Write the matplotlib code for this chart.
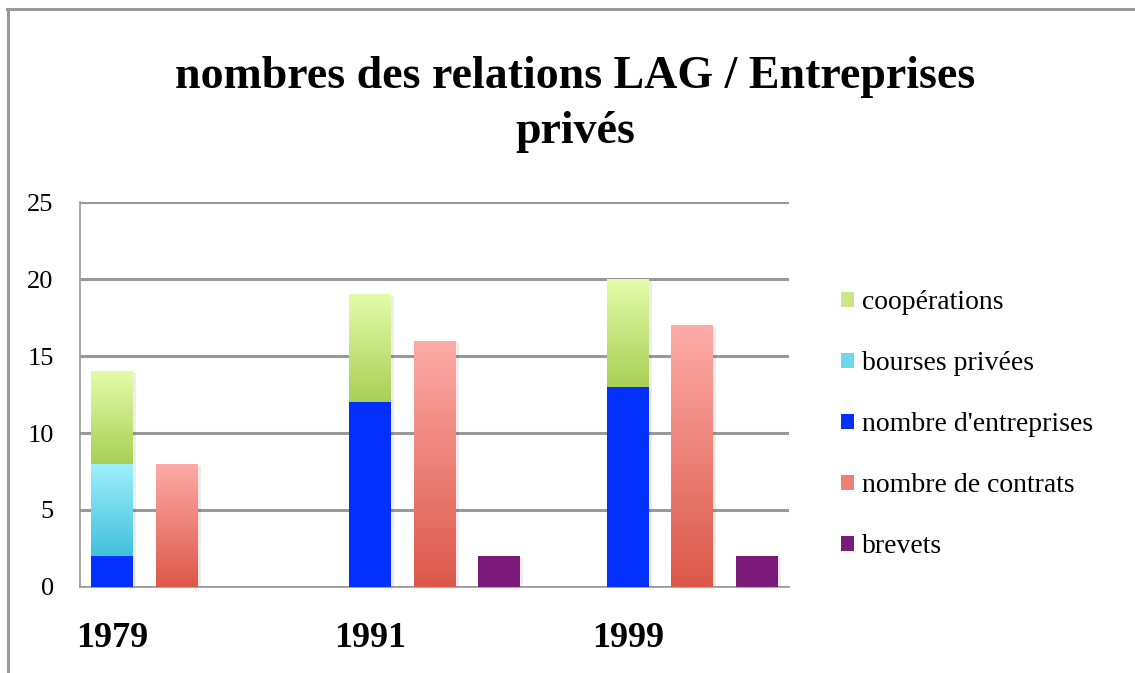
import matplotlib
matplotlib.use('Agg')
import matplotlib.pyplot as plt
from matplotlib.colors import LinearSegmentedColormap
from matplotlib.patches import Patch
from matplotlib.lines import Line2D
import numpy as np

# relations LAG / entreprises privées par année
years = ['1979', '1991', '1999']
entreprises = [2, 12, 13]
bourses = [6, 0, 0]
cooperations = [6, 7, 7]
contrats = [8, 16, 17]
brevets = [0, 2, 2]

plt.rcParams['font.family'] = ['Liberation Serif', 'DejaVu Serif']

fig = plt.figure(figsize=(11.35, 6.73), dpi=100)
ax = fig.add_axes([0.0705, 0.1278, 0.6246, 0.572])

w = 0.65
grey = '#999999'


def shadow(x, h, bottom):
    if h <= 0:
        return
    ax.bar(x + 0.05, h, w, bottom=bottom - 0.12, color='k', alpha=0.07,
           zorder=2.5, linewidth=0)


def grad_bar(x, h, bottom, top_col, bot_col):
    if h <= 0:
        return
    bar = ax.bar(x, h, w, bottom=bottom, color='none', linewidth=0, zorder=3)[0]
    cmap = LinearSegmentedColormap.from_list('g', [bot_col, top_col])
    img = ax.imshow(np.linspace(0, 1, 256).reshape(-1, 1), cmap=cmap,
                    extent=[x - w / 2, x + w / 2, bottom, bottom + h],
                    origin='lower', aspect='auto', zorder=3)
    img.set_clip_path(bar)


for i in range(len(years)):
    x0 = i * 4
    # shadows first
    shadow(x0, entreprises[i] + bourses[i] + cooperations[i], 0)
    shadow(x0 + 1, contrats[i], 0)
    shadow(x0 + 2, brevets[i], 0)

    # stacked bar
    if entreprises[i] > 0:
        ax.bar(x0, entreprises[i], w, color='#0330ff', linewidth=0, zorder=3)
    grad_bar(x0, bourses[i], entreprises[i], '#a0f0fd', '#40c0dc')
    grad_bar(x0, cooperations[i], entreprises[i] + bourses[i], '#e4fcaa', '#a8cf55')

    grad_bar(x0 + 1, contrats[i], 0, '#fdaba7', '#dc5849')
    if brevets[i] > 0:
        ax.bar(x0 + 2, brevets[i], w, color='#7c1a79', linewidth=0, zorder=3)

ax.set_xlim(-0.5, 10.5)
ax.set_ylim(0, 25)
ax.set_yticks(np.arange(0, 26, 5))
ax.set_xticks([i * 4 for i in range(len(years))])
ax.set_xticklabels(years, fontsize=26, fontweight='bold')
ax.tick_params(axis='x', length=0, pad=25)
ax.tick_params(axis='y', length=0, pad=19, labelsize=19)

ax.set_axisbelow(True)
ax.yaxis.grid(True, color=grey, linewidth=2.2)
for s in ['top', 'right']:
    ax.spines[s].set_visible(False)
for s in ['left', 'bottom']:
    ax.spines[s].set_color(grey)
    ax.spines[s].set_linewidth(1.2)

# title
fig.text(0.507, 0.845, 'nombres des relations LAG / Entreprises\nprivés',
         ha='center', va='center', fontsize=33, fontweight='bold',
         linespacing=1.42)

# legend
handles = [
    Patch(facecolor='#c9e884', label='coopérations'),
    Patch(facecolor='#70d8ee', label='bourses privées'),
    Patch(facecolor='#0330ff', label="nombre d'entreprises"),
    Patch(facecolor='#ef7f76', label='nombre de contrats'),
    Patch(facecolor='#7c1a79', label='brevets'),
]
fig.legend(handles=handles, loc='center left', bbox_to_anchor=(0.741, 0.369),
           bbox_transform=fig.transFigure, frameon=False, fontsize=20,
           handlelength=0.45, handleheight=0.45, handletextpad=0.3,
           labelspacing=1.3, borderpad=0, borderaxespad=0)

# outer frame (top and left edges)
fig.add_artist(Line2D([0.006, 1.0], [1 - 9 / 673, 1 - 9 / 673],
                      transform=fig.transFigure, color=grey, linewidth=2.2))
fig.add_artist(Line2D([8 / 1135, 8 / 1135], [0, 1 - 9 / 673],
                      transform=fig.transFigure, color=grey, linewidth=2.2))

fig.savefig('out.png', dpi=100)
